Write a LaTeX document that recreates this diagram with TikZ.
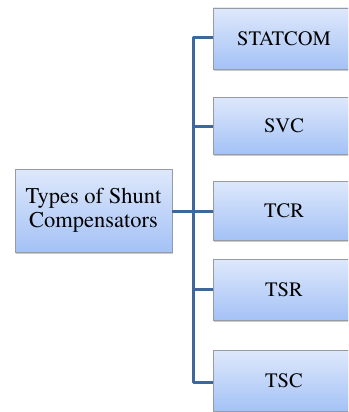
\documentclass[tikz,border=0pt]{standalone}
\usepackage[T1]{fontenc}
\usepackage{times}
\usetikzlibrary{shadows}
\definecolor{boxtop}{RGB}{222,232,251}
\definecolor{boxbot}{RGB}{164,194,246}
\definecolor{boxline}{RGB}{150,155,165}
\definecolor{trunk}{RGB}{62,103,155}
\tikzset{
  catbox/.style={draw=boxline, line width=0.8pt, top color=boxtop, bottom color=boxbot,
    drop shadow={shadow xshift=1pt, shadow yshift=-1.5pt, opacity=0.35, fill=black!60},
    inner sep=0pt, align=center},
  leafbox/.style={catbox, minimum width=142pt, minimum height=60pt, font=\rmfamily\fontsize{20.5}{22}\selectfont},
  rootbox/.style={catbox, minimum width=157pt, minimum height=83pt, font=\rmfamily\fontsize{22.5}{24}\selectfont},
  tie/.style={draw=trunk, line width=3pt}
}
\begin{document}
\begin{tikzpicture}[x=1pt,y=-1pt]
\useasboundingbox (0,0) rectangle (348,412);
\clip (0,0) rectangle (348,412);
\node[rootbox] (root) at (93.5,210.5) {Types of Shunt\\Compensators};
\node[leafbox, minimum height=61pt] (statcom) at (284,38.5) {STATCOM};
\node[leafbox, minimum height=57pt] (svc) at (284,125.5) {SVC};
\node[leafbox, minimum height=59pt] (tcr) at (284,210.5) {TCR};
\node[leafbox, minimum height=61pt] (tsr) at (284,289.5) {TSR};
\node[leafbox, minimum height=61pt] (tsc) at (284,380.5) {TSC};
\coordinate (jn) at (193,211);
\draw[tie, line join=round] (statcom.west |- 0,38) -| (jn) |- (tsc.west |- 0,382);
\draw[tie] (root.east |- jn) -- (tcr.west |- jn);
\draw[tie] (jn |- 0,126) -- (svc.west |- 0,126);
\draw[tie] (jn |- 0,289) -- (tsr.west |- 0,289);
\end{tikzpicture}
\end{document}
